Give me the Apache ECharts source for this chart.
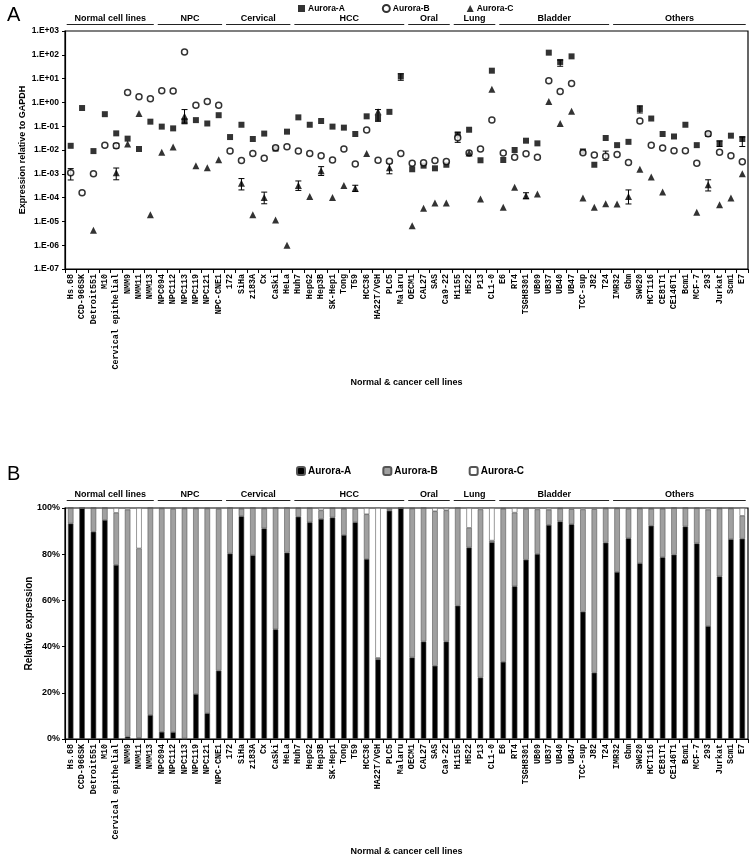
<!DOCTYPE html>
<html><head><meta charset="utf-8">
<script src="https://cdn.jsdelivr.net/npm/echarts@6/dist/echarts.min.js"></script>
<style>html,body{margin:0;padding:0;background:#fff}#c{width:750px;height:857px}</style>
</head><body><div id="c"></div>
<script>
const cellLines = ['Hs.68','CCD-966SK','Detroit551','M10','Cervical epithelial','NMM9','NMM11','NMM13','NPC094','NPC112','NPC113','NPC119','NPC121','NPC-CNE1','172','SiHa','z183A','Cx','CaSki','HeLa','Huh7','HepG2','Hep3B','SK-Hep1','Tong','T59','HCC36','HA22T/VGH','PLC5','Malaru','OECM1','CAL27','SAS','Ca9-22','H1155','H522','P13','CL1-0','E6','RT4','TSGH8301','UB09','UB37','UB40','UB47','TCC-sup','J82','T24','IMR32','Gbm','SW620','HCT116','CE81T1','CE146T1','Bcm1','MCF-7','293','Jurkat','Scm1','E7'];

// groups: [label, first index, last index]
const groups = [['Normal cell lines',0,7],['NPC',8,13],['Cervical',14,19],['HCC',20,29],['Oral',30,33],['Lung',34,37],['Bladder',38,47],['Others',48,59]];

// Panel A: expression relative to GAPDH
const auroraA = [0.015,0.58,0.009,0.32,0.05,0.03,0.011,0.155,0.096,0.081,0.16,0.18,0.13,0.29,0.035,0.115,0.029,0.049,0.0114,0.059,0.235,0.115,0.165,0.096,0.087,0.047,0.26,0.22,0.40,12.4,0.00155,0.0022,0.0017,0.0024,0.044,0.071,0.0037,21.5,0.0038,0.01,0.0246,0.019,123,50,86,0.0087,0.0024,0.032,0.016,0.022,0.53,0.21,0.047,0.037,0.115,0.016,0.047,0.019,0.04,0.029];
const auroraB = [0.0011,1.6e-4,0.001,0.016,0.015,2.6,1.74,1.44,3.1,3.0,131,0.75,1.1,0.75,0.009,0.0036,0.0072,0.0045,0.0125,0.0138,0.009,0.0072,0.0058,0.0038,0.011,0.0026,0.069,0.0037,0.0034,0.0072,0.0028,0.0029,0.0036,0.0033,0.033,0.0074,0.011,0.18,0.0074,0.0049,0.007,0.0049,8.2,2.9,6.3,0.0076,0.0062,0.0055,0.0065,0.003,0.165,0.016,0.012,0.0093,0.0093,0.0028,0.048,0.008,0.0057,0.0032];
const auroraC = [null,null,4.2e-6,null,0.0011,0.018,0.34,1.9e-5,0.008,0.0134,0.26,0.0022,0.0018,0.0039,null,4e-4,1.9e-5,1e-4,1.15e-5,1e-6,3.2e-4,1.1e-4,0.00135,1e-4,3.2e-4,2.5e-4,0.0072,0.4,0.0018,null,6.6e-6,3.6e-5,5.9e-5,5.9e-5,null,0.0074,8.7e-5,3.6,3.9e-5,2.7e-4,1.2e-4,1.4e-4,1.1,0.13,0.42,9.6e-5,3.9e-5,5.5e-5,5.4e-5,1.1e-4,0.00155,7.4e-4,1.7e-4,null,null,2.4e-5,3.5e-4,5e-5,9.6e-5,0.001];

// error bars: [category index, low, high]
const errA = [[29,8.5,16],[34,0.021,0.056],[43,33,60],[50,0.36,0.72],[57,0.014,0.024],[59,0.014,0.035]];
const errB = [[0,5.5e-4,1.65e-3],[4,0.012,0.019],[47,0.0037,0.009]];
const errC = [[4,5.6e-4,1.75e-3],[10,0.135,0.5],[15,2.1e-4,6.3e-4],[17,5.5e-5,1.7e-4],[20,2e-4,5e-4],[22,8.5e-4,2e-3],[25,1.8e-4,3.3e-4],[27,0.16,0.5],[28,1e-3,2.8e-3],[40,9e-5,1.6e-4],[49,5.4e-5,2.1e-4],[56,1.9e-4,5.6e-4]];

// Panel B: relative expression (%)
const pctA = [93.3,99.9,89.7,94.8,75.4,1.0,0.5,10.4,3.1,3.0,0.2,19.5,11.2,29.6,80.3,96.5,79.6,91.2,47.5,80.7,96.2,93.8,95.3,95.9,88.3,93.9,77.9,34.5,98.8,99.9,35.3,42.2,31.7,42.2,57.7,82.9,26.6,85.2,33.4,66.1,77.6,80.1,92.7,94.2,93.0,55.1,28.7,85.0,72.3,86.9,76.1,92.3,78.7,79.8,92.0,84.7,48.9,70.4,86.5,86.7];
const pctB = [6.7,0.1,10.3,5.2,22.5,98.3,82.0,89.6,96.7,96.6,99.6,80.3,88.6,70.0,19.7,3.2,20.4,8.6,52.5,19.3,3.7,6.1,3.7,4.0,11.4,5.7,19.4,0.6,0.8,0.1,64.5,57.8,66.9,56.8,42.3,8.5,72.8,0.7,66.3,31.9,22.0,19.3,6.5,5.6,6.5,44.3,70.8,14.8,27.5,12.7,23.7,7.4,21.0,20.2,8.0,15.2,50.4,29.4,13.3,9.9];
const pctC = [0,0,0,0,2.1,0.7,17.5,0,0.2,0.4,0.2,0.2,0.2,0.4,0,0.3,0,0.2,0,0,0.1,0.1,1.0,0.1,0.3,0.4,2.7,64.9,0.4,0,0.2,0,1.4,1.0,0,8.6,0.6,14.1,0.3,2.0,0.4,0.6,0.8,0.2,0.5,0.6,0.5,0.2,0.2,0.4,0.2,0.3,0.3,0,0,0.1,0.7,0.2,0.2,3.4];

const yRangeA = [1e-7, 1e3];

const SANS = 'Liberation Sans';
const MONO = 'Liberation Mono';
const chart = echarts.init(document.getElementById('c'), null, {renderer:'canvas'});

function sciLabel(v){
  const e = Math.round(Math.log10(v));
  return '1.E' + (e >= 0 ? '+' : '-') + String(Math.abs(e)).padStart(2,'0');
}
function errSeries(data, xi, yi){
  return {
    type:'custom', xAxisIndex:xi, yAxisIndex:yi, data:data, z:1, silent:true,
    renderItem:function(params, api){
      const p1 = api.coord([api.value(0), api.value(1)]);
      const p2 = api.coord([api.value(0), api.value(2)]);
      const s = {stroke:'#000', lineWidth:1};
      return {type:'group', children:[
        {type:'line', shape:{x1:p1[0],y1:p1[1],x2:p2[0],y2:p2[1]}, style:s},
        {type:'line', shape:{x1:p1[0]-3,y1:p1[1],x2:p1[0]+3,y2:p1[1]}, style:s},
        {type:'line', shape:{x1:p2[0]-3,y1:p2[1],x2:p2[0]+3,y2:p2[1]}, style:s}
      ]};
    }
  };
}
const xLabel = {rotate:90, interval:0, fontFamily:MONO, fontWeight:'bold', fontSize:8.4, color:'#000', margin:5};
const bNames = {bA:'Aurora-A', bB:'Aurora-B', bC:'Aurora-C'};
const barStyle = (c)=>({color:c, borderColor:'#555', borderWidth:0.6});

chart.setOption({
  animation:false,
  backgroundColor:'#fff',
  title:[
    {text:'A', left:2, top:0, textStyle:{fontFamily:SANS, fontWeight:'normal', fontSize:20, color:'#000'}},
    {text:'B', left:2, top:459, textStyle:{fontFamily:SANS, fontWeight:'normal', fontSize:20, color:'#000'}}
  ],
  legend:[
    {data:['Aurora-A','Aurora-B','Aurora-C'], left:298, top:4, padding:0, itemWidth:7, itemHeight:7, itemGap:37, selectedMode:false,
     textStyle:{fontFamily:SANS, fontWeight:'bold', fontSize:8.5, color:'#000', padding:[0,0,0,-2]}},
    {data:['bA','bB','bC'], left:296, top:466, padding:0, itemWidth:8, itemHeight:8, itemGap:31, selectedMode:false,
     formatter:(n)=>bNames[n],
     textStyle:{fontFamily:SANS, fontWeight:'bold', fontSize:10, color:'#000', padding:[0,0,0,-2]}}
  ],
  grid:[
    {left:65, right:2, top:31, height:238, show:true, borderColor:'#000', borderWidth:1.2, backgroundColor:'transparent'},
    {left:65, right:2, top:508, height:233, show:true, borderColor:'#000', borderWidth:1.2, backgroundColor:'transparent'}
  ],
  xAxis:[
    {type:'category', gridIndex:0, data:cellLines, boundaryGap:true,
     axisLine:{lineStyle:{color:'#000', width:1.2}}, axisTick:{show:true, length:4, lineStyle:{color:'#000'}},
     axisLabel:xLabel, name:'Normal & cancer cell lines', nameLocation:'middle', nameGap:109, nameMoveOverlap:false,
     nameTextStyle:{fontFamily:SANS, fontWeight:'bold', fontSize:9, color:'#000'}},
    {type:'category', gridIndex:1, data:cellLines, boundaryGap:true,
     axisLine:{lineStyle:{color:'#000', width:1.2}}, axisTick:{show:true, length:4, lineStyle:{color:'#000'}},
     axisLabel:xLabel, name:'Normal & cancer cell lines', nameLocation:'middle', nameGap:108, nameMoveOverlap:false,
     nameTextStyle:{fontFamily:SANS, fontWeight:'bold', fontSize:9, color:'#000'}}
  ],
  yAxis:[
    {type:'log', logBase:10, gridIndex:0, min:yRangeA[0], max:yRangeA[1], interval:1,
     axisLine:{show:true, lineStyle:{color:'#000', width:1.2}}, axisTick:{show:true, length:3, lineStyle:{color:'#000'}},
     splitLine:{show:false}, minorTick:{show:false},
     axisLabel:{formatter:sciLabel, fontFamily:SANS, fontWeight:'bold', fontSize:8.5, color:'#000', margin:6},
     name:'Expression relative to GAPDH', nameLocation:'middle', nameGap:38, nameMoveOverlap:false,
     nameTextStyle:{fontFamily:SANS, fontWeight:'bold', fontSize:9, color:'#000'}},
    {type:'value', gridIndex:1, min:0, max:100, interval:20,
     axisLine:{show:true, lineStyle:{color:'#000', width:1.2}}, axisTick:{show:true, length:3, lineStyle:{color:'#000'}},
     splitLine:{show:false},
     axisLabel:{formatter:'{value}%', fontFamily:SANS, fontWeight:'bold', fontSize:9, color:'#000', margin:5},
     name:'Relative expression', nameLocation:'middle', nameGap:31, nameMoveOverlap:false,
     nameTextStyle:{fontFamily:SANS, fontWeight:'bold', fontSize:10, color:'#000'}}
  ],
  series:[
    errSeries(errA,0,0), errSeries(errB,0,0), errSeries(errC,0,0),
    {name:'Aurora-A', type:'scatter', xAxisIndex:0, yAxisIndex:0, data:auroraA, symbol:'rect', symbolSize:6, z:3,
     itemStyle:{color:'#000'}},
    {name:'Aurora-B', type:'scatter', xAxisIndex:0, yAxisIndex:0, data:auroraB, symbol:'circle', symbolSize:6, z:3,
     itemStyle:{color:'#fff', borderColor:'#000', borderWidth:1.5}},
    {name:'Aurora-C', type:'scatter', xAxisIndex:0, yAxisIndex:0, data:auroraC, symbol:'triangle', symbolSize:7, z:4,
     itemStyle:{color:'#000'}},
    {name:'bA', type:'bar', xAxisIndex:1, yAxisIndex:1, stack:'p', data:pctA, barWidth:5.5, itemStyle:barStyle('#000')},
    {name:'bB', type:'bar', xAxisIndex:1, yAxisIndex:1, stack:'p', data:pctB, barWidth:5.5, itemStyle:barStyle('#a0a0a0')},
    {name:'bC', type:'bar', xAxisIndex:1, yAxisIndex:1, stack:'p', data:pctC, barWidth:5.5, itemStyle:barStyle('#fff')}
  ]
});

// group labels above each panel, positioned from the category axis
const graphics = [];
[[0, 23, 24.5],[1, 499, 500.5]].forEach(([axisIdx, ty, ly])=>{
  const step = chart.convertToPixel({xAxisIndex:axisIdx}, 1) - chart.convertToPixel({xAxisIndex:axisIdx}, 0);
  groups.forEach(([label, s, e])=>{
    const x1 = chart.convertToPixel({xAxisIndex:axisIdx}, s) - 0.35*step;
    const x2 = chart.convertToPixel({xAxisIndex:axisIdx}, e) + 0.3*step;
    graphics.push({type:'line', shape:{x1:x1, y1:ly, x2:x2, y2:ly}, style:{stroke:'#222', lineWidth:1}});
    graphics.push({type:'text', x:(x1+x2)/2, y:ty, style:{text:label, fill:'#000', font:'bold 9px "Liberation Sans"', textAlign:'center', textVerticalAlign:'bottom'}});
  });
});
chart.setOption({graphic:graphics});
</script>
</body></html>
